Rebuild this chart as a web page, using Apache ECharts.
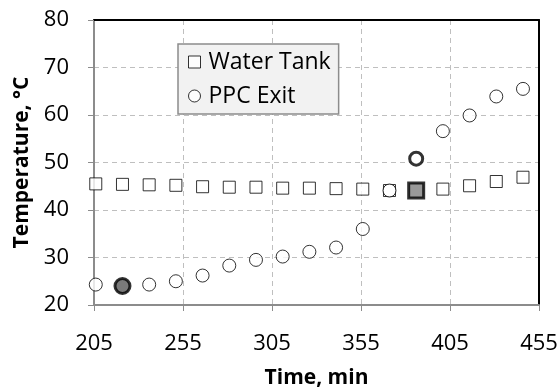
<!DOCTYPE html>
<html>
<head>
<meta charset="utf-8">
<script src="https://cdn.jsdelivr.net/npm/echarts@6/dist/echarts.min.js"></script>
<style>
  html, body { margin: 0; padding: 0; background: #fff; }
  #chart { width: 560px; height: 392px; }
</style>
</head>
<body>
<div id="chart"></div>
<script>
// time points, min
const times = [206, 221, 236, 251, 266, 281, 296, 311, 326, 341, 356, 371, 386, 401, 416, 431, 446];
// temperatures, °C
const waterTank = [45.5, 45.4, 45.3, 45.2, 44.9, 44.8, 44.8, 44.6, 44.6, 44.5, 44.4, 44.1, 44.1, 44.4, 45.1, 46.0, 46.9];
const ppcExit = [24.3, 24.0, 24.3, 25.0, 26.2, 28.3, 29.5, 30.2, 31.2, 32.1, 36.0, 44.1, 50.8, 56.6, 59.9, 63.9, 65.5];
const xTicks = [205, 255, 305, 355, 405, 455];
const yTicks = [20, 30, 40, 50, 60, 70, 80];

const font = 'Open Sans';

function pts(vals, special) {
    return vals.map((v, i) => {
        let item = { value: [times[i], v] };
        if (special[i]) item = Object.assign(item, special[i]);
        return item;
    });
}

// top / right frame of the plot area
const frame = {
    type: 'value',
    axisLine: { show: true, onZero: false, lineStyle: { color: '#000', width: 2 } },
    axisTick: { show: false },
    axisLabel: { show: false },
    splitLine: { show: false }
};

let myChart = echarts.init(document.getElementById('chart'));
let option = {
    animation: false,
    grid: {
        left: 94, right: 21, top: 20, bottom: 87,
        outerBoundsMode: 'none',
        containLabel: false
    },
    legend: {
        orient: 'vertical',
        left: 178, top: 44,
        backgroundColor: '#f2f2f2',
        borderColor: '#8c8c8c',
        borderWidth: 1.5,
        borderRadius: 0,
        padding: [4, 8, 4, 10],
        itemGap: 6,
        itemWidth: 12, itemHeight: 12,
        textStyle: { fontFamily: font, fontSize: 23, lineHeight: 28, color: '#000', padding: [0, 0, 0, 3] },
        data: [
            { name: 'Water Tank', icon: 'rect', itemStyle: { color: '#fff', borderColor: '#000', borderWidth: 1 } },
            { name: 'PPC Exit', icon: 'circle', itemStyle: { color: '#fff', borderColor: '#000', borderWidth: 1 } }
        ]
    },
    xAxis: [{
        type: 'value',
        min: 205, max: 455, interval: 50,
        name: 'Time, min',
        nameLocation: 'middle',
        nameGap: 63,
        nameTextStyle: { fontFamily: font, fontSize: 21, fontWeight: 'bold', color: '#000' },
        axisLine: { onZero: false, lineStyle: { color: '#8c8c8c', width: 2 } },
        axisTick: { show: true, length: 6, lineStyle: { color: '#8c8c8c', width: 1 } },
        axisLabel: { fontFamily: font, fontSize: 22, color: '#000', margin: 28,
            formatter: v => xTicks.includes(v) ? String(v) : '' },
        splitLine: { show: true, lineStyle: { type: [5, 4], color: '#bfbfbf', width: 1 } }
    }, Object.assign({ position: 'top', min: 205, max: 455 }, frame)],
    yAxis: [{
        type: 'value',
        min: 20, max: 80, interval: 10,
        name: 'Temperature, °C',
        nameLocation: 'middle',
        nameGap: 60,
        nameTextStyle: { fontFamily: font, fontSize: 21, fontWeight: 'bold', color: '#000' },
        axisLine: { show: true, onZero: false, lineStyle: { color: '#8c8c8c', width: 2 } },
        axisTick: { show: true, length: 6, lineStyle: { color: '#8c8c8c', width: 1 } },
        axisLabel: { fontFamily: font, fontSize: 22, color: '#000', margin: 25,
            formatter: v => yTicks.includes(v) ? String(v) : '' },
        splitLine: { show: true, lineStyle: { type: [5, 4], color: '#bfbfbf', width: 1 } }
    }, Object.assign({ position: 'right', min: 20, max: 80 }, frame)],
    series: [
        {
            name: 'Water Tank',
            type: 'scatter',
            symbol: 'rect',
            symbolSize: 12,
            itemStyle: { color: '#fff', borderColor: '#000', borderWidth: 1 },
            data: pts(waterTank, {
                12: { symbolSize: 15, itemStyle: { color: '#7f7f7f', borderColor: '#000', borderWidth: 3 } }
            })
        },
        {
            name: 'PPC Exit',
            type: 'scatter',
            symbol: 'circle',
            symbolSize: 13,
            itemStyle: { color: '#fff', borderColor: '#000', borderWidth: 1 },
            data: pts(ppcExit, {
                1: { symbolSize: 15, itemStyle: { color: '#595959', borderColor: '#000', borderWidth: 3 } },
                12: { symbolSize: 13, itemStyle: { color: '#fff', borderColor: '#000', borderWidth: 3 } }
            })
        }
    ]
};
myChart.setOption(option);
window.addEventListener('resize', function() {
    myChart.resize();
});
</script>
</body>
</html>
